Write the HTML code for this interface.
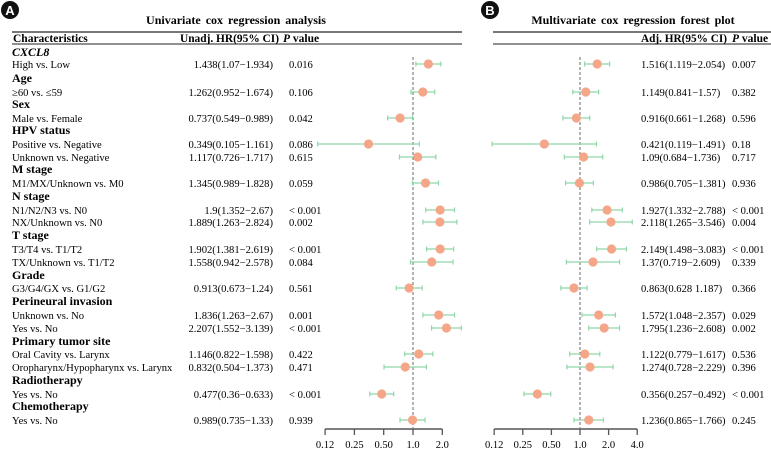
<!DOCTYPE html>
<html><head><meta charset="utf-8"><style>
body{margin:0;background:#fff;}
svg{display:block;font-family:"Liberation Serif",serif;}
</style></head><body>
<svg id="c" width="771" height="452" xmlns="http://www.w3.org/2000/svg"></svg>
<script>
const labels=["High vs. Low","≥60 vs. ≤59","Male vs. Female","Positive vs. Negative","Unknown vs. Negative","M1/MX/Unknown vs. M0","N1/N2/N3 vs. N0","NX/Unknown vs. N0","T3/T4 vs. T1/T2","TX/Unknown  vs. T1/T2","G3/G4/GX vs. G1/G2","Unknown vs.  No","Yes vs.  No","Oral Cavity vs. Larynx","Oropharynx/Hypopharynx  vs. Larynx"," Yes vs.  No"," Yes vs.  No"];
const rowY=[64,92,118,144,157,183,210,222,249,262,288,315,328,354,367,394,420];
const groups=["CXCL8","Age","Sex","HPV status","M stage","N stage","T stage","Grade","Perineural invasion","Primary tumor site","Radiotherapy","Chemotherapy"];
const groupY=[52,78,104,130,169,196,235,275,301,341,380,406];
const uniHR=[1.438,1.262,0.737,0.349,1.117,1.345,1.9,1.889,1.902,1.558,0.913,1.836,2.207,1.146,0.832,0.477,0.989];
const uniLo=[1.07,0.952,0.549,0.105,0.726,0.989,1.352,1.263,1.381,0.942,0.673,1.263,1.552,0.822,0.504,0.36,0.735];
const uniHi=[1.934,1.674,0.989,1.161,1.717,1.828,2.67,2.824,2.619,2.578,1.24,2.67,3.139,1.598,1.373,0.633,1.33];
const uniText=["1.438(1.07−1.934)","1.262(0.952−1.674)","0.737(0.549−0.989)","0.349(0.105−1.161)","1.117(0.726−1.717)","1.345(0.989−1.828)","1.9(1.352−2.67)","1.889(1.263−2.824)","1.902(1.381−2.619)","1.558(0.942−2.578)","0.913(0.673−1.24)","1.836(1.263−2.67)","2.207(1.552−3.139)","1.146(0.822−1.598)","0.832(0.504−1.373)","0.477(0.36−0.633)","0.989(0.735−1.33)"];
const uniP=["0.016","0.106","0.042","0.086","0.615","0.059","< 0.001","0.002","< 0.001","0.084","0.561","0.001","< 0.001","0.422","0.471","< 0.001","0.939"];
const mulHR=[1.516,1.149,0.916,0.421,1.09,0.986,1.927,2.118,2.149,1.37,0.863,1.572,1.795,1.122,1.274,0.356,1.236];
const mulLo=[1.119,0.841,0.661,0.119,0.684,0.705,1.332,1.265,1.498,0.719,0.628,1.048,1.236,0.779,0.728,0.257,0.865];
const mulHi=[2.054,1.57,1.268,1.491,1.736,1.381,2.788,3.546,3.083,2.609,1.187,2.357,2.608,1.617,2.229,0.492,1.766];
const mulText=["1.516(1.119−2.054)","1.149(0.841−1.57)","0.916(0.661−1.268)","0.421(0.119−1.491)","1.09(0.684−1.736)","0.986(0.705−1.381)","1.927(1.332−2.788)","2.118(1.265−3.546)","2.149(1.498−3.083)","1.37(0.719−2.609)","0.863(0.628  1.187)","1.572(1.048−2.357)","1.795(1.236−2.608)","1.122(0.779−1.617)","1.274(0.728−2.229)","0.356(0.257−0.492)","1.236(0.865−1.766)"];
const mulP=["0.007","0.382","0.596","0.18","0.717","0.936","< 0.001","0.004","< 0.001","0.339","0.366","0.029","0.002","0.536","0.396","< 0.001","0.245"];
const ticksA=[0.125,0.25,0.5,1,2];
const tickLabA=["0.12","0.25","0.50","1.0","2.0"];
const ticksB=[0.125,0.25,0.5,1,2,4];
const tickLabB=["0.12","0.25","0.50","1.0","2.0","4.0"];

const S=document.getElementById('c');
const NS="http://www.w3.org/2000/svg";
function mk(tag,attrs,txt){const e=document.createElementNS(NS,tag);for(const k in attrs)e.setAttribute(k,attrs[k]);if(txt!==undefined)e.textContent=txt;S.appendChild(e);return e;}
const xA=v=>413+29.3*Math.log2(v);
const xB=v=>580+28.6*Math.log2(v);
const FS=10.6;

let e;
e=mk('circle',{cx:10,cy:10,r:9,fill:'#111'});

e=mk('text',{x:10,y:15,'text-anchor':'middle','font-family':'Liberation Sans, sans-serif','font-weight':'bold','font-size':13,fill:'#fff'},'A');

e=mk('circle',{cx:490,cy:10,r:9,fill:'#111'});

e=mk('text',{x:490,y:15,'text-anchor':'middle','font-family':'Liberation Sans, sans-serif','font-weight':'bold','font-size':13,fill:'#fff'},'B');

e=mk('text',{x:236,y:24,'text-anchor':'middle','font-weight':'bold','font-size':12,'word-spacing':'2'},'Univariate cox regression analysis');

e=mk('text',{x:633,y:24,'text-anchor':'middle','font-weight':'bold','font-size':12,'word-spacing':'2'},'Multivariate cox regression forest plot');


e=mk('line',{x1:12,x2:462,y1:32,y2:32,stroke:'#777','stroke-width':2});

e=mk('line',{x1:12,x2:462,y1:44,y2:44,stroke:'#222','stroke-width':1});

e=mk('line',{x1:493,x2:771,y1:32,y2:32,stroke:'#777','stroke-width':2});

e=mk('line',{x1:493,x2:771,y1:44,y2:44,stroke:'#222','stroke-width':1});


e=mk('text',{x:13,y:42,'font-weight':'bold','font-size':11.5},'Characteristics');

e=mk('text',{x:180,y:42,'font-weight':'bold','font-size':11.5,textLength:99,lengthAdjust:'spacingAndGlyphs'},'Unadj. HR(95% CI)');

e=mk('text',{x:283,y:42,'font-weight':'bold','font-size':11.5});
e.innerHTML='<tspan font-style="italic">P</tspan> value';

e=mk('text',{x:641,y:42,'font-weight':'bold','font-size':11.5,textLength:86,lengthAdjust:'spacingAndGlyphs'},'Adj. HR(95% CI)');

e=mk('text',{x:732,y:42,'font-weight':'bold','font-size':11.5});
e.innerHTML='<tspan font-style="italic">P</tspan> value';


groups.forEach((g,i)=>{
  const t=mk('text',{x:12,y:groupY[i]+4,'font-weight':'bold','font-size':12,'font-style':i===0?'italic':'normal'},g);
  
  
});

e=mk('line',{x1:xA(1),x2:xA(1),y1:57,y2:428,stroke:'#444','stroke-dasharray':'3,2','stroke-width':0.8});

e=mk('line',{x1:xB(1),x2:xB(1),y1:57,y2:428,stroke:'#444','stroke-dasharray':'3,2','stroke-width':0.8});


function drawRows(xf,hr,lo,hi,txt,p,hrX,hrAnchor,pX,pfx){
  rowY.forEach((y,i)=>{
    const x1=xf(lo[i]),x2=xf(hi[i]),xc=xf(hr[i]);
    let l=mk('line',{x1:x1,x2:x2,y1:y,y2:y,stroke:'#8fd6a8','stroke-width':1.3});
    
    
    [x1,x2].forEach(xx=>{
      const c=mk('line',{x1:xx,x2:xx,y1:y-2.5,y2:y+2.5,stroke:'#8fd6a8','stroke-width':1.2});
      
      
    });
    const d=mk('circle',{cx:xc,cy:y,r:4.6,fill:'#f5a688'});
    
    
    const t=mk('text',{x:hrX,y:y+4,'text-anchor':hrAnchor,'font-size':FS,'xml:space':'preserve'},txt[i]);
    
    
    const pt=mk('text',{x:pX,y:y+4,'font-size':FS},p[i]);
    
    
  });
}
labels.forEach((lb,i)=>{
  const t=mk('text',{x:12,y:rowY[i]+4,'font-size':FS,'xml:space':'preserve'},lb);
  
  
});
drawRows(xA,uniHR,uniLo,uniHi,uniText,uniP,273,'end',289,'uni');
drawRows(xB,mulHR,mulLo,mulHi,mulText,mulP,641,'start',732,'multi');

function axis(xf,ticks,labs,pfx){
  const a=mk('line',{x1:xf(ticks[0]),x2:xf(ticks[ticks.length-1]),y1:429,y2:429,stroke:'#555','stroke-width':1.5});
  
  
  ticks.forEach((v,i)=>{
    const tk=mk('line',{x1:xf(v),x2:xf(v),y1:429,y2:435,stroke:'#555','stroke-width':1.3});
    
    
    const tl=mk('text',{x:xf(v),y:448,'text-anchor':'middle','font-size':10.5},labs[i]);
    
    
  });
}
axis(xA,ticksA,tickLabA,'panel-a');
axis(xB,ticksB,tickLabB,'panel-b');
</script>
</body></html>
